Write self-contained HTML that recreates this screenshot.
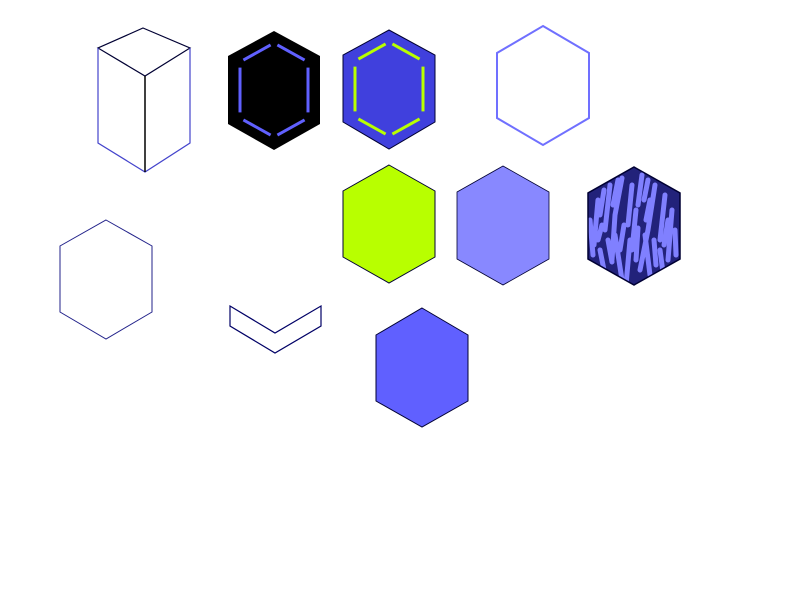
<!DOCTYPE html>
<html><head><meta charset="utf-8"><style>body{margin:0;background:#fff}svg{display:block}</style></head>
<body>
<svg id="s" width="800" height="600" viewBox="0 0 800 600">
<defs>
<clipPath id="hc"><polygon points="634,167 680,193 680,259 634,285 588,259 588,193"/></clipPath>
</defs>
<g fill="none" stroke-width="1.2">
<polygon points="143,28 190,48 145,76 98,48" fill="#fff" stroke="#000033"/>
<polyline points="98,48 98,143 145,172 190,143 190,48" stroke="#4444cc"/>
<line x1="145" y1="76" x2="145" y2="172" stroke="#000" stroke-width="1.5"/>
</g>
<g id="bh">
<polygon points="274,31 320,56 320,124 274,150 228,124 228,56" fill="#000"/>
</g>
<g id="blh">
<polygon points="389,30 435,55 435,122 389,149 343,122 343,55" fill="#4040dd" stroke="#000033"/>
</g>
<polygon points="543,26 589,53 589,118 543,145 497,118 497,53" fill="none" stroke="#7070ff" stroke-width="2"/>
<polygon points="389,165 435,191 435,257 389,283 343,257 343,191" fill="#b8ff00" stroke="#000033"/>
<polygon points="503,166 549,192 549,259 503,285 457,259 457,192" fill="#8888ff" stroke="#000033" stroke-width="0.8"/>
<g>
<polygon points="634,167 680,193 680,259 634,285 588,259 588,193" fill="#22227a"/>
<g clip-path="url(#hc)" stroke="#8080ff" stroke-width="5" stroke-linecap="round" fill="none">
<path d="M598,200 L594,245 M604,190 L600,215 M610,185 L605,230 M618,180 L613,205 M622,178 L615,215 L612,260 M632,185 L628,225 M642,175 L638,205 M648,180 L644,200 M655,185 L648,230 L640,270 M665,195 L660,240 M672,210 L668,260 M600,250 L605,275 M608,240 L612,262 M615,235 L622,280 M630,240 L626,285 M638,228 L636,260 M645,235 L650,275 M654,240 L656,265 M660,250 L664,280 M590,220 L593,255 M675,230 L676,255 M636,210 L632,250 M650,200 L646,220 M668,220 L664,245 M624,225 L620,250 M602,225 L598,240"/>
</g>
<polygon points="634,167 680,193 680,259 634,285 588,259 588,193" fill="none" stroke="#000033" stroke-width="1.5"/>
</g>
<polygon points="106,220 152,246 152,312 106,339 60,312 60,246" fill="none" stroke="#22228a"/>
<polygon points="230,306 275,333 321,306 321,326 275,353 230,326" fill="#fff" stroke="#000066" stroke-width="1.2"/>
<polygon points="422,308 468,335 468,401 422,427 376,401 376,335" fill="#6060ff" stroke="#000033"/>
</svg>
<script>
function inner(gid,cx,top,color){
  var g=document.getElementById(gid);
  var hw=34,pts=[[cx,top],[cx+hw,top+19],[cx+hw,top+75],[cx,top+94],[cx-hw,top+75],[cx-hw,top+19]];
  for(var i=0;i<6;i++){
    var a=pts[i],b=pts[(i+1)%6],t0=0.1,t1=0.9;
    var l=document.createElementNS('http://www.w3.org/2000/svg','line');
    
    
    l.setAttribute('x1',a[0]+(b[0]-a[0])*t0);l.setAttribute('y1',a[1]+(b[1]-a[1])*t0);
    l.setAttribute('x2',a[0]+(b[0]-a[0])*t1);l.setAttribute('y2',a[1]+(b[1]-a[1])*t1);
    l.setAttribute('stroke',color);l.setAttribute('stroke-width','3');
    g.appendChild(l);
  }
}
inner('bh',274,43,'#6060ff');
inner('blh',389,42,'#b8ff00');
</script>
</body></html>
